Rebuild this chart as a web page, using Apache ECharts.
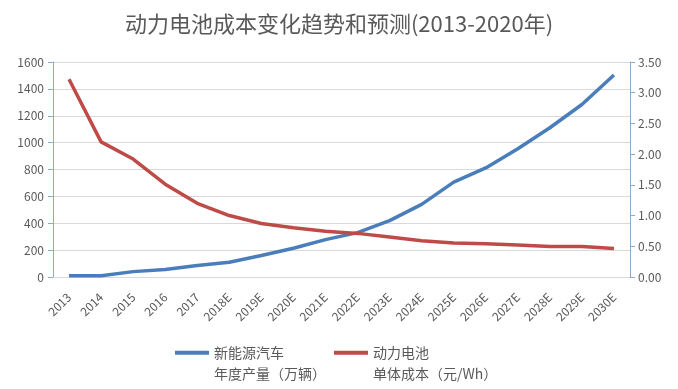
<!DOCTYPE html>
<html>
<head>
<meta charset="utf-8">
<script src="https://cdn.jsdelivr.net/npm/echarts@6/dist/echarts.min.js"></script>
<style>html,body{margin:0;padding:0;background:#fff;}#c{width:678px;height:389px;}</style>
</head>
<body>
<div id="c"></div>
<script>
const categories = ['2013','2014','2015','2016','2017','2018E','2019E','2020E','2021E','2022E','2023E','2024E','2025E','2026E','2027E','2028E','2029E','2030E'];
const evOutput = [10,10,40,55,85,110,160,214,278,330,420,540,706,812,954,1111,1284,1503];
const batteryCost = [3.22,2.20,1.92,1.51,1.20,1.00,0.87,0.80,0.745,0.71,0.65,0.59,0.555,0.54,0.52,0.495,0.495,0.465];
const leftTicks = [0,200,400,600,800,1000,1200,1400,1600];
const rightTicks = [0,0.5,1,1.5,2,2.5,3,3.5];
const titleText = '动力电池成本变化趋势和预测(2013-2020年)';
const nameEV = '新能源汽车\n年度产量（万辆）';
const nameBat = '动力电池\n单体成本（元/Wh）';

const font = '"Noto Sans CJK SC","Noto Sans",sans-serif';
const chart = echarts.init(document.getElementById('c'), null, {renderer:'canvas'});
chart.setOption({
  animation:false,
  backgroundColor:'#fff',
  title:{text:titleText,left:'center',top:8,textStyle:{fontFamily:font,fontSize:22,fontWeight:'normal',color:'#595959'}},
  grid:{left:53,right:48,top:62,bottom:112},
  legend:{
    left:175, top:322, padding:0, itemGap:8, itemWidth:34, itemHeight:4, icon:'rect',
    formatter:n=>' \n'+n,
    textStyle:{fontFamily:font,fontSize:14,color:'#595959',lineHeight:20.5},
    data:[nameEV,nameBat]
  },
  xAxis:{
    type:'category', data:categories, boundaryGap:true,
    axisLine:{lineStyle:{color:'#d9d9d9',width:1}},
    axisTick:{show:false},
    axisLabel:{rotate:45,interval:0,fontFamily:font,fontSize:12,color:'#595959',margin:18}
  },
  yAxis:[
    {type:'value',min:leftTicks[0],max:leftTicks[leftTicks.length-1],interval:200,
     axisLine:{show:true,lineStyle:{color:'#8eaacb',width:1}},
     axisTick:{show:true,length:5,lineStyle:{color:'#8eaacb'}},
     axisLabel:{fontFamily:font,fontSize:12,color:'#595959',margin:9,formatter:v=>String(v)},
     splitLine:{lineStyle:{color:'#d9d9d9'}}},
    {type:'value',min:rightTicks[0],max:rightTicks[rightTicks.length-1],interval:0.5,position:'right',
     axisLine:{show:true,lineStyle:{color:'#8eaacb',width:1}},
     axisTick:{show:true,length:5,lineStyle:{color:'#8eaacb'}},
     axisLabel:{fontFamily:font,fontSize:12,color:'#595959',margin:8,formatter:v=>v.toFixed(2)},
     splitLine:{show:false}}
  ],
  series:[
    {name:nameEV,type:'line',yAxisIndex:0,data:evOutput,showSymbol:false,symbol:'none',
     lineStyle:{color:'#4a7ebb',width:3.5},itemStyle:{color:'#4a7ebb'}},
    {name:nameBat,type:'line',yAxisIndex:1,data:batteryCost,showSymbol:false,symbol:'none',
     lineStyle:{color:'#be4b48',width:3.5},itemStyle:{color:'#be4b48'}}
  ]
});
</script>
</body>
</html>
